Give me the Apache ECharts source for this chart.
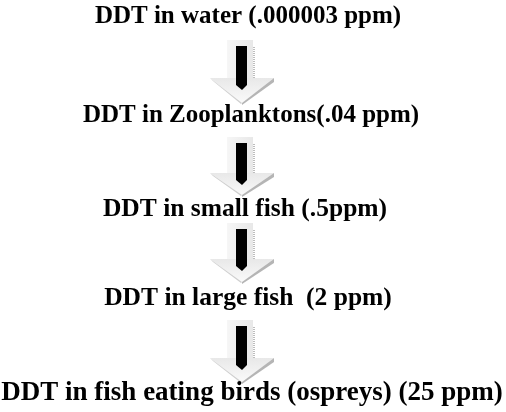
<!DOCTYPE html>
<html>
<head>
<meta charset="utf-8">
<script src="https://cdn.jsdelivr.net/npm/echarts@6/dist/echarts.min.js"></script>
<style>html,body{margin:0;padding:0;background:#fff}#c{width:506px;height:412px}</style>
</head>
<body>
<div id="c"></div>
<script>
// Data: food-chain stages (DDT biomagnification)
const stages = [
  'DDT in water (.000003 ppm)',
  'DDT in Zooplanktons(.04 ppm)',
  'DDT in small fish (.5ppm)',
  'DDT in large fish  (2 ppm)',
  'DDT in fish eating birds (ospreys) (25 ppm)'
];
const ppm = [0.000003, 0.04, 0.5, 2, 25];

// Layout (pixel space of the hidden axes) and styles
const textX = [248, 251, 245, 248, 252];
const textY = [17, 116, 209, 298, 393];
const textSize = [25, 25, 25.5, 25.5, 27];
const arrowTop = [40, 137, 223, 320];
const arrowHeadTop = [78, 173, 259, 358];
const arrowTip = [103, 195, 282, 382];
const arrowX = 242;

const chart = echarts.init(document.getElementById('c'), null, {renderer: 'canvas'});

function renderArrow(params, api) {
  const i = api.value(0);
  const p = (x, y) => api.coord([x, y]);
  const top = arrowTop[i], ht = arrowHeadTop[i], tip = arrowTip[i];
  const cx = arrowX;
  const children = [];
  // light shaft
  const s1 = p(cx - 15, top), s2 = p(cx + 11, ht);
  children.push({type: 'rect', shape: {x: s1[0], y: s1[1], width: s2[0] - s1[0], height: s2[1] - s1[1]},
    style: {fill: new echarts.graphic.LinearGradient(0, 0, 1, 0, [{offset: 0, color: '#f6f6f6'}, {offset: 1, color: '#e8e8e8'}])}});
  // dotted grey right edge
  const e1 = p(cx + 12, top + 7), e2 = p(cx + 12, ht);
  children.push({type: 'line', shape: {x1: e1[0], y1: e1[1], x2: e2[0], y2: e2[1]},
    style: {stroke: '#a8a8a8', lineWidth: 1.5, lineDash: [1, 1]}});
  // head
  const hl = p(cx - 32, ht), hr = p(cx + 32, ht), ht2 = p(cx, tip);
  children.push({type: 'polygon', shape: {points: [hl, hr, ht2]},
    style: {fill: new echarts.graphic.LinearGradient(0, 0, 0, 1, [{offset: 0, color: '#e8e8e8'}, {offset: 1, color: '#fafafa'}])}});
  // bevel right
  const b1 = p(cx + 32, ht), b2 = p(cx + 32, ht + 4), b3 = p(cx, tip + 2), b4 = p(cx, tip);
  children.push({type: 'polygon', shape: {points: [b1, b2, b3, b4]}, style: {fill: '#b5b5b5'}});
  // bevel left
  const l1 = p(cx - 32, ht), l2 = p(cx - 29, ht + 3), l3 = p(cx - 1, tip + 1), l4 = p(cx, tip);
  children.push({type: 'polygon', shape: {points: [l1, l2, l3, l4]}, style: {fill: '#cfcfcf'}});
  // black bar
  const k1 = p(cx - 6, top + 6), k2 = p(cx + 5, top + 6), k3 = p(cx + 5, ht + 7), k4 = p(cx, ht + 12), k5 = p(cx - 6, ht + 7);
  children.push({type: 'polygon', shape: {points: [k1, k2, k3, k4, k5]}, style: {fill: '#000'}});
  return {type: 'group', children};
}

function renderText(params, api) {
  const i = api.value(0);
  const c = api.coord([textX[i], textY[i]]);
  return {type: 'text', x: c[0], y: c[1], style: {text: stages[i], fill: '#000',
    font: 'bold ' + textSize[i] + 'px "Liberation Serif", "Times New Roman", serif', align: 'center', verticalAlign: 'middle'}};
}

chart.setOption({
  animation: false,
  grid: {left: 0, right: 0, top: 0, bottom: 0},
  xAxis: {type: 'value', min: 0, max: 506, show: false},
  yAxis: {type: 'value', min: 0, max: 412, inverse: true, show: false},
  series: [
    {type: 'custom', renderItem: renderArrow, data: stages.slice(0, -1).map((s, i) => [i, ppm[i]])},
    {type: 'custom', renderItem: renderText, data: stages.map((s, i) => [i, ppm[i]])}
  ]
});
</script>
</body>
</html>
